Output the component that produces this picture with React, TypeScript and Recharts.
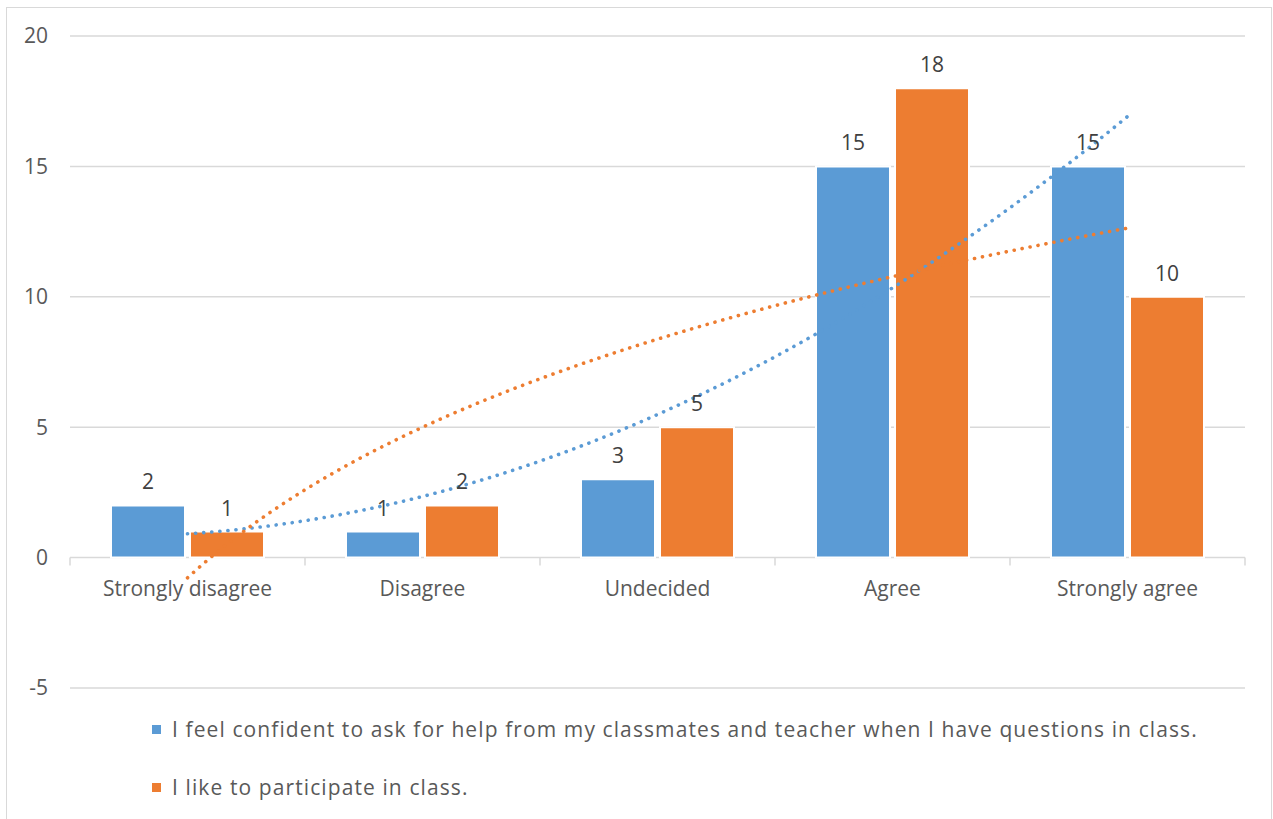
import React from 'react'
import {
  ComposedChart, Bar, Line, XAxis, YAxis, CartesianGrid, LabelList, Legend,
} from 'recharts'

const categories = ['Strongly disagree', 'Disagree', 'Undecided', 'Agree', 'Strongly agree']
const confidentValues = [2, 1, 3, 15, 15]
const participateValues = [1, 2, 5, 18, 10]
const yTicks = [-5, 0, 5, 10, 15, 20]
const confidentName = 'I feel confident to ask for help from my classmates and teacher when I have questions in class.'
const participateName = 'I like to participate in class.'

const BLUE = '#5B9BD5'
const ORANGE = '#ED7D31'
const FONT = '"Open Sans", sans-serif'

const W = 1273
const H = 819
const PLOT_LEFT = 70
const PLOT_RIGHT = 1245
const PLOT_TOP = 36
const PLOT_BOTTOM = 688
const Y_MIN = -5
const Y_MAX = 20
const ZERO_Y = PLOT_TOP + ((Y_MAX - 0) / (Y_MAX - Y_MIN)) * (PLOT_BOTTOM - PLOT_TOP)
const BAND = (PLOT_RIGHT - PLOT_LEFT) / categories.length

const data = categories.map((name, i) => ({
  name,
  confident: confidentValues[i],
  participate: participateValues[i],
}))

// least squares: solve normal equations for the given basis functions
function leastSquares(xs: number[], ys: number[], basis: ((x: number) => number)[]) {
  const n = basis.length
  const A = Array.from({ length: n }, () => new Array(n + 1).fill(0))
  xs.forEach((x, k) => {
    const row = basis.map(f => f(x))
    for (let i = 0; i < n; i++) {
      for (let j = 0; j < n; j++) A[i][j] += row[i] * row[j]
      A[i][n] += row[i] * ys[k]
    }
  })
  for (let c = 0; c < n; c++) {
    let p = c
    for (let r = c + 1; r < n; r++) if (Math.abs(A[r][c]) > Math.abs(A[p][c])) p = r
    ;[A[c], A[p]] = [A[p], A[c]]
    for (let r = 0; r < n; r++) {
      if (r === c) continue
      const f = A[r][c] / A[c][c]
      for (let j = c; j <= n; j++) A[r][j] -= f * A[c][j]
    }
  }
  const coef = A.map((row, i) => row[n] / row[i])
  return (x: number) => basis.reduce((s, f, i) => s + coef[i] * f(x), 0)
}

const xs = categories.map((_, i) => i + 1)
// polynomial (order 2) trend for the first series, logarithmic for the second
const confidentTrend = leastSquares(xs, confidentValues, [() => 1, x => x, x => x * x])
const participateTrend = leastSquares(xs, participateValues, [() => 1, x => Math.log(x)])

const trendX = Array.from({ length: 81 }, (_, i) => 1 + i * 0.05)
const confidentTrendData = trendX.map(x => ({ x, y: confidentTrend(x) }))
const participateTrendData = trendX.map(x => ({ x, y: participateTrend(x) }))

const CategoryTick = (props: any) => {
  const { x, payload, index } = props
  const left = x - BAND / 2
  return (
    <g>
      <line x1={left} x2={left} y1={ZERO_Y} y2={ZERO_Y + 8} stroke="#d9d9d9" strokeWidth={1.5} />
      {index === categories.length - 1 && (
        <line x1={left + BAND} x2={left + BAND} y1={ZERO_Y} y2={ZERO_Y + 8} stroke="#d9d9d9" strokeWidth={1.5} />
      )}
      <text x={x} y={ZERO_Y + 38} textAnchor="middle" fill="#595959" fontSize={21} fontFamily={FONT}>
        {payload.value}
      </text>
    </g>
  )
}

const LegendContent = () => {
  const items = [
    { color: BLUE, label: confidentName },
    { color: ORANGE, label: participateName },
  ]
  return (
    <div style={{ fontFamily: FONT, fontSize: 21, letterSpacing: 1.1, color: '#595959' }}>
      {items.map(it => (
        <div key={it.label} style={{ display: 'flex', alignItems: 'center', height: 58, whiteSpace: 'nowrap' }}>
          <span style={{ width: 9, height: 9, background: it.color, display: 'inline-block', marginRight: 11 }} />
          <span>{it.label}</span>
        </div>
      ))}
    </div>
  )
}

const App: React.FC = () => {
  return (
    <div style={{ position: 'fixed', left: 0, top: 0, width: W, height: H, overflow: 'hidden', background: '#fff' }}>
      <div style={{
        position: 'absolute', left: 6, top: 7, width: W - 7, height: H + 20,
        border: '1.5px solid #d9d9d9', boxSizing: 'border-box',
      }} />
      <ComposedChart
        width={W}
        height={H}
        data={data}
        margin={{ top: PLOT_TOP, right: W - PLOT_RIGHT, bottom: 0, left: 0 }}
        barSize={74}
        barGap={5}
        style={{ position: 'absolute', left: 0, top: 0 }}
      >
        <CartesianGrid vertical={false} stroke="#d9d9d9" strokeWidth={1.5} />
        <XAxis
          xAxisId="cat"
          dataKey="name"
          height={H - PLOT_BOTTOM}
          axisLine={false}
          tickLine={false}
          interval={0}
          tick={<CategoryTick />}
        />
        <XAxis xAxisId="trend" type="number" dataKey="x" domain={[0.5, 5.5]} allowDataOverflow hide />
        <YAxis
          width={PLOT_LEFT}
          domain={[Y_MIN, Y_MAX]}
          ticks={yTicks}
          axisLine={false}
          tickLine={false}
          tickSize={0}
          tickMargin={22}
          tick={{ fill: '#595959', fontSize: 21, fontFamily: FONT }}
        />
        <Bar xAxisId="cat" dataKey="confident" name={confidentName} fill={BLUE} stroke="#fff" strokeWidth={2} isAnimationActive={false}>
          <LabelList dataKey="confident" position="top" offset={16} fill="#404040" fontSize={21} fontFamily={FONT} />
        </Bar>
        <Bar xAxisId="cat" dataKey="participate" name={participateName} fill={ORANGE} stroke="#fff" strokeWidth={2} isAnimationActive={false}>
          <LabelList dataKey="participate" position="top" offset={16} fill="#404040" fontSize={21} fontFamily={FONT} />
        </Bar>
        <Line
          xAxisId="trend"
          data={confidentTrendData}
          dataKey="y"
          type="linear"
          stroke={BLUE}
          strokeWidth={3.6}
          strokeDasharray="0.1 8"
          strokeLinecap="round"
          dot={false}
          activeDot={false}
          legendType="none"
          isAnimationActive={false}
        />
        <Line
          xAxisId="trend"
          data={participateTrendData}
          dataKey="y"
          type="linear"
          stroke={ORANGE}
          strokeWidth={3.6}
          strokeDasharray="0.1 8"
          strokeLinecap="round"
          dot={false}
          activeDot={false}
          legendType="none"
          isAnimationActive={false}
        />
        <Legend
          layout="vertical"
          align="center"
          verticalAlign="middle"
          content={<LegendContent />}
          wrapperStyle={{ left: 152, top: 700, width: 1110, height: 116 }}
        />
      </ComposedChart>
    </div>
  )
}

export default App
